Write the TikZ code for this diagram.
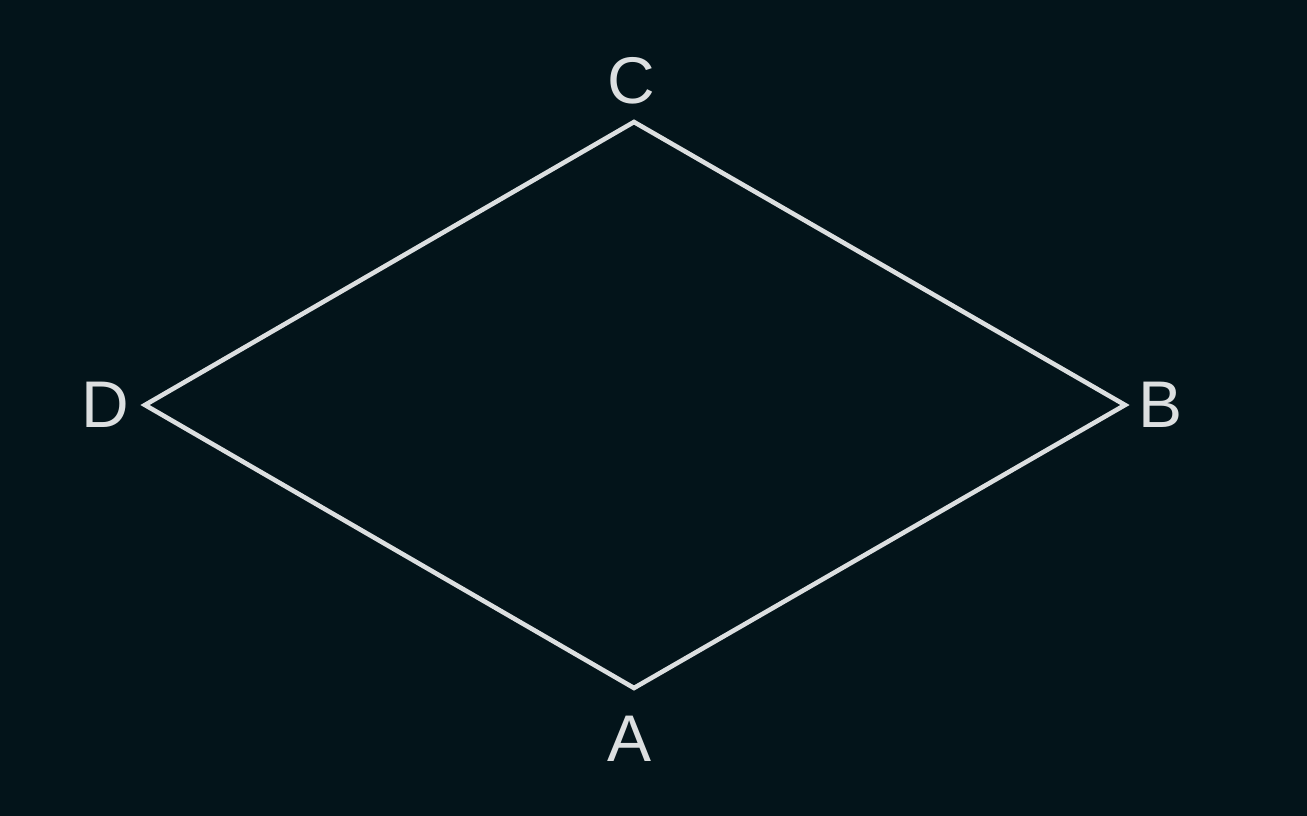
\documentclass[tikz,border=0pt]{standalone}
\usepackage{fontspec}
\setmainfont{Liberation Sans}
\definecolor{bgc}{HTML}{03141A}
\definecolor{fgc}{HTML}{DCDFE0}
\begin{document}
\begin{tikzpicture}[x=1pt,y=-1pt,
  edge/.style={draw=fgc,line width=4.6pt,line join=miter},
  lbl/.style={text=fgc,font=\fontsize{66}{66}\selectfont,inner sep=0pt,anchor=center}]
\fill[bgc] (0,0) rectangle (1307,816);
\useasboundingbox (0,0) rectangle (1307,816);
\coordinate (vC) at (634,122);
\coordinate (vB) at (1125,405);
\coordinate (vA) at (634,688);
\coordinate (vD) at (145,405);
\draw[edge] (vC) -- (vB) -- (vA) -- (vD) -- cycle;
\node[lbl] (C) at (631,81) {C};
\node[lbl] (B) at (1160,405) {B};
\node[lbl] (A) at (630,739) {A};
\node[lbl] (D) at (105,405) {D};
\end{tikzpicture}
\end{document}
